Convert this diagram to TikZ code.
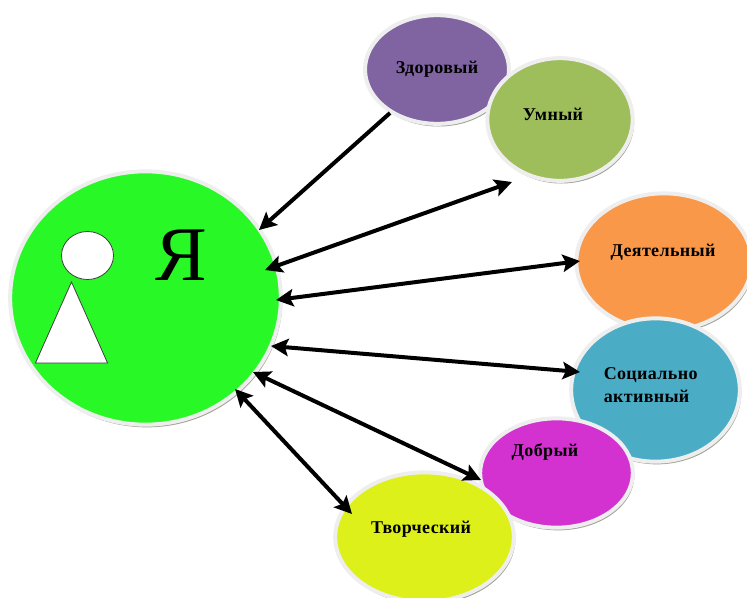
\documentclass[tikz,border=0pt]{standalone}
\usepackage{fontspec}
\setmainfont{Liberation Serif}
\newfontfamily\spacedbold[LetterSpace=2,BoldFont={Liberation Serif Bold}]{Liberation Serif}
\usetikzlibrary{shapes.geometric,shadows,arrows.meta}
\definecolor{ringgray}{HTML}{EEEEEE}
\definecolor{shadowgray}{HTML}{9FA293}
\tikzset{
  blob/.style={ellipse,inner sep=0pt,draw=ringgray,line width=3pt,
    drop shadow={shadow xshift=1.1pt,shadow yshift=-2pt,fill=shadowgray,opacity=1}},
  word/.style={font=\spacedbold\bfseries\fontsize{13.5}{15.5}\selectfont,inner sep=0pt,align=left,text=black},
  link/.style={line width=3pt,draw=black,{Stealth[length=13pt,width=13pt,inset=2.5pt]}-{Stealth[length=13pt,width=13pt,inset=2.5pt]}},
  linkone/.style={line width=3pt,draw=black,-{Stealth[length=13pt,width=13pt,inset=2.5pt]}},
  figure/.style={fill=white,draw=black!75,line width=0.6pt},
}
\begin{document}
\begin{tikzpicture}[x=0.75pt,y=-0.75pt]
\useasboundingbox (0,0) rectangle (747,597);
\node[blob,fill={rgb,255:red,40;green,248;blue,38},minimum width=203pt,minimum height=190pt] (ya) at (145.5,298) {};
\node[blob,fill={rgb,255:red,128;green,100;blue,162},minimum width=108pt,minimum height=81.5pt] (zd) at (437,69.5) {};
\node[blob,fill={rgb,255:red,158;green,189;blue,91},minimum width=109pt,minimum height=92pt] (um) at (560,119.5) {};
\node[blob,fill={rgb,255:red,248;green,152;blue,72},minimum width=131.5pt,minimum height=103pt] (de) at (664,262) {};
\node[blob,fill={rgb,255:red,75;green,172;blue,198},minimum width=126.5pt,minimum height=107.5pt] (so) at (655.5,390) {};
\node[blob,fill={rgb,255:red,211;green,49;blue,208},minimum width=114.5pt,minimum height=82pt] (do) at (556.5,473) {};
\node[blob,fill={rgb,255:red,221;green,240;blue,26},minimum width=134pt,minimum height=97pt] (tv) at (424.5,537) {};
\node[ellipse,figure,minimum width=39pt,minimum height=36pt,inner sep=0pt] (head) at (87.5,255.5) {};
\node[isosceles triangle,isosceles triangle apex angle=48,shape border rotate=90,figure,
  minimum height=60.7pt,inner sep=0pt,anchor=apex] (body) at (71.5,281) {};
\node[inner sep=0pt,font=\fontsize{58}{62}\selectfont] (yal) at (181.5,255) {Я};
\node[word] (zdl) at (437,69.5) {Здоровый};
\node[word] (uml) at (553,114.5) {Умный};
\node[word] (del) at (663,252.5) {Деятельный};
\node[word,anchor=west] (sol) at (603.5,385) {Социально\\[2pt]активный};
\node[word] (dol) at (545,452) {Добрый};
\node[word] (tvl) at (421,529) {Творческий};
\coordinate (a1s) at (390,113);
\coordinate (a1e) at (259,230);
\coordinate (a2s) at (265,270);
\coordinate (a2e) at (512,182);
\coordinate (a3s) at (276,300);
\coordinate (a3e) at (580,261);
\coordinate (a4s) at (271,346);
\coordinate (a4e) at (580,372);
\coordinate (a5s) at (253,372);
\coordinate (a5e) at (481,480);
\coordinate (a6s) at (235,389);
\coordinate (a6e) at (352,514);
\draw[linkone] (a1s) -- (a1e);
\draw[link] (a2s) -- (a2e);
\draw[link] (a3s) -- (a3e);
\draw[link] (a4s) -- (a4e);
\draw[link] (a5s) -- (a5e);
\draw[link] (a6s) -- (a6e);
\end{tikzpicture}
\end{document}
